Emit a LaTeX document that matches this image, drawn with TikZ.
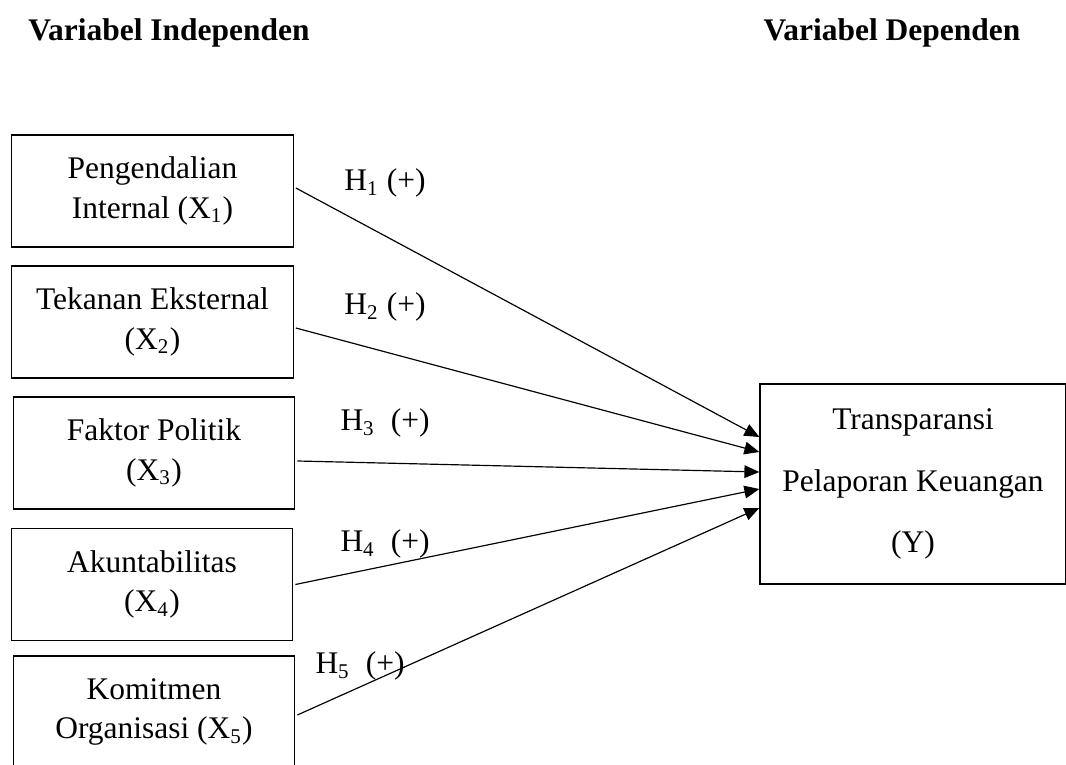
\documentclass[tikz,border=0pt]{standalone}
\usepackage{fontspec}
\setmainfont{Liberation Serif}
\usetikzlibrary{arrows.meta,calc}
\tikzset{>={Triangle[length=2mm,width=1.7mm]}}

\begin{document}
\begin{tikzpicture}[x=0.0134cm, y=-0.0134cm, font=\fontsize{12}{15}\selectfont,
  var/.style={draw, line width=0.5pt, minimum width=3.77cm, minimum height=1.5cm, align=center, inner sep=0pt},
  head/.style={font=\bfseries\fontsize{12}{14}\selectfont},
  hyp/.style={inner sep=0pt}]
        \useasboundingbox (0,0) rectangle (1066,765);
        \node[head] (indep) at (169,33) {Variabel Independen};
        \node[head] (dep) at (892,33) {Variabel Dependen};

        \node[var] (x1) at (152.5,191) {Pengendalian\\Internal (X\textsubscript{1})};
        \node[var] (x2) at (152.5,322) {Tekanan Eksternal\\(X\textsubscript{2})};
        \node[var] (x3) at (154,453) {Faktor Politik\\(X\textsubscript{3})};
        \node[var] (x4) at (152,584.5) {Akuntabilitas\\(X\textsubscript{4})};
        \node[var] (x5) at (154,712) {Komitmen\\Organisasi (X\textsubscript{5})};
        \node[var, minimum width=4.1cm, minimum height=2.68cm, font=\fontsize{12}{23.5}\selectfont] (y) at (913,484)
            {Transparansi\\Pelaporan Keuangan\\(Y)};

        \node[hyp] (h1) at (385,183) {H\textsubscript{1} (+)};
        \node[hyp] (h2) at (385,307) {H\textsubscript{2} (+)};
        \node[hyp] (h3) at (385,423) {H\textsubscript{3}~ (+)};
        \node[hyp] (h4) at (385,544) {H\textsubscript{4}~ (+)};
        \node[hyp] (h5) at (360,666) {H\textsubscript{5}~ (+)};

        \path[->, line width=0.45pt]
        ($(x1.east)+(2,-3)$) edge ($(y.west)+(0,-47)$)
        ($(x2.east)+(2,6)$) edge ($(y.west)+(0,-32)$)
        ($(x3.east)+(2,8)$) edge ($(y.west)+(0,-12)$)
        ($(x4.east)+(2,0)$) edge ($(y.west)+(0,5)$)
        ($(x5.east)+(2,3)$) edge ($(y.west)+(0,24)$);
\end{tikzpicture}
\end{document}
